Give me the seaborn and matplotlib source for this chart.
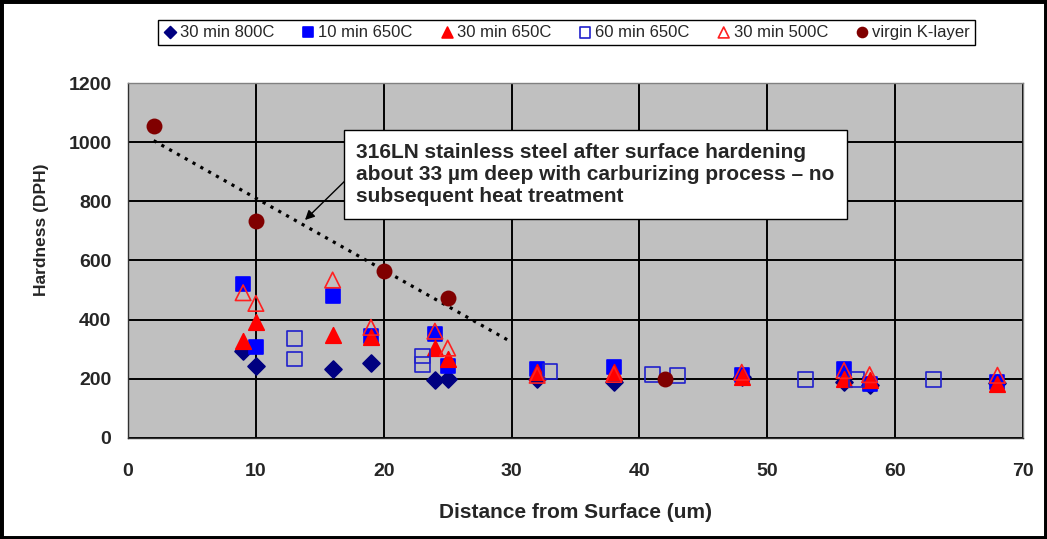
import numpy as np
import matplotlib
matplotlib.use('Agg')
from matplotlib import pyplot as plt
from matplotlib.patches import Rectangle
import seaborn as sns

# hardness profiles
x_800_30 = [9, 10, 16, 19, 24, 25, 32, 38, 48, 56, 58, 68]
y_800_30 = [293, 243, 233, 252, 197, 200, 200, 190, 205, 190, 180, 185]

x_650_10 = [9, 10, 16, 19, 24, 25, 32, 38, 48, 56, 58, 68]
y_650_10 = [519, 308, 479, 346, 350, 242, 234, 240, 214, 233, 182, 188]

x_650_30 = [9, 10, 16, 19, 24, 25, 32, 38, 48, 56, 58, 68]
y_650_30 = [329, 392, 347, 342, 304, 268, 222, 222, 206, 200, 195, 182]

x_650_60 = [13, 13, 23, 23, 33, 41, 43, 53, 57, 63]
y_650_60 = [335, 267, 277, 247, 225, 216, 212, 197, 197, 197]

x_500_30 = [9, 10, 16, 19, 24, 25, 32, 38, 48, 56, 58, 68]
y_500_30 = [491, 455, 534, 374, 361, 304, 212, 215, 222, 228, 214, 212]

x_virgin = [2, 10, 20, 25, 42]
y_virgin = [1055, 735, 566, 473, 200]

labels = ['30 min 800C', '10 min 650C', '30 min 650C', '60 min 650C',
          '30 min 500C', 'virgin K-layer']

annot = ('316LN stainless steel after surface hardening\n'
         'about 33 \u00b5m deep with carburizing process \u2013 no\n'
         'subsequent heat treatment')

sns.set_style('white')
plt.rcParams['font.family'] = ['Liberation Sans', 'DejaVu Sans']

fig = plt.figure(figsize=(10.47, 5.39), dpi=100)
ax = fig.add_axes([0.1223, 0.1874, 0.8548, 0.6586])
ax.set_facecolor('#C0C0C0')

series = [
    (x_800_30, y_800_30, 'D', '#000080', '#000080', 75),
    (x_650_10, y_650_10, 's', '#0000FF', '#0000FF', 115),
    (x_650_30, y_650_30, '^', '#FF0000', '#FF0000', 125),
    (x_650_60, y_650_60, 's', 'none', '#2020CC', 115),
    (x_500_30, y_500_30, '^', 'none', '#FF2020', 125),
    (x_virgin, y_virgin, 'o', '#800000', '#800000', 105),
]
for (xs, ys, m, fc, ec, s), lab in zip(series, labels):
    sns.scatterplot(x=xs, y=ys, marker=m, s=s, color=ec, facecolor=fc,
                    edgecolor=ec, linewidth=1.2, ax=ax, label=lab, zorder=3)

# linear trendline through the hardened-layer points, extended to 30 um
k, b = np.polyfit(x_virgin[:4], y_virgin[:4], 1)
tx = np.array([2, 30])
sns.lineplot(x=tx, y=k * tx + b, color='black', lw=2.3, ax=ax,
             dashes=False, zorder=2)
ax.lines[-1].set_linestyle((0, (1, 1.8)))

ax.set_xlim(0, 70)
ax.set_ylim(0, 1200)
ax.set_xticks(range(0, 71, 10))
ax.set_yticks(range(0, 1201, 200))
ax.grid(True, color='black', lw=1.4)
ax.set_axisbelow(True)
for side in ['top', 'right']:
    ax.spines[side].set_color('#808080')
    ax.spines[side].set_linewidth(1)
for side in ['left', 'bottom']:
    ax.spines[side].set_color('#303030')
    ax.spines[side].set_linewidth(1)
ax.tick_params(axis='both', direction='out', length=5, width=1,
               color='#303030', labelsize=14)
ax.tick_params(axis='y', pad=7)
ax.tick_params(axis='x', pad=13)
for t in ax.get_xticklabels() + ax.get_yticklabels():
    t.set_fontweight('bold')

ax.set_xlabel('Distance from Surface (um)', fontsize=15, fontweight='bold')
ax.set_ylabel('Hardness (DPH)', fontsize=12.5, fontweight='bold')
ax.xaxis.set_label_coords(0.5, -0.182)
ax.yaxis.set_label_coords(-0.088, 0.586)

ax.annotate(annot, xy=(17.83, 891), fontsize=15, fontweight='bold',
            ha='left', va='center', linespacing=1.22, zorder=5,
            bbox=dict(boxstyle='square,pad=0.6', fc='white', ec='black', lw=1))
ax.annotate('', xy=(13.84, 737), xytext=(17.2, 879), zorder=4,
            arrowprops=dict(arrowstyle='-|>', color='black', lw=1,
                            mutation_scale=14, shrinkA=0, shrinkB=0))

handles, labs = ax.get_legend_handles_labels()
ax.get_legend().remove()
fig.legend(handles, labs, loc='center', bbox_to_anchor=(0.541, 0.94), ncol=6,
           fontsize=12, markerscale=0.7, handlelength=0.8, handletextpad=0.2,
           columnspacing=1.65, borderpad=0.3, fancybox=False,
           edgecolor='black', framealpha=1)

fig.patches.append(Rectangle((0, 0), 1, 1, transform=fig.transFigure,
                             fill=False, edgecolor='black', lw=5))

plt.savefig('out.png', dpi=100)
